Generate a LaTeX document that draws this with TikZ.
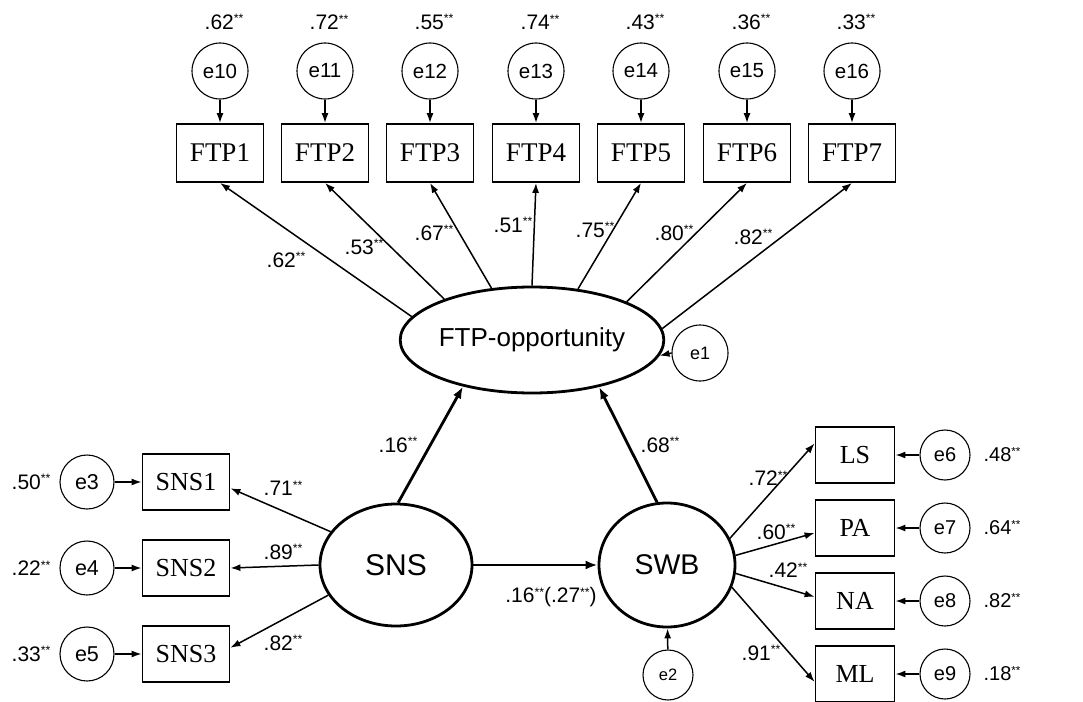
\documentclass[tikz,border=0pt]{standalone}
\usepackage{fontspec}
\setmainfont{Liberation Serif}
\newfontfamily\arial{Liberation Sans}
\usetikzlibrary{arrows.meta,shapes.geometric}
% significance stars set as small raised asterisks
\newcommand\sig{\raisebox{0.3em}{\scalebox{0.58}{**}}}
\newcommand\fs[1]{\fontsize{#1}{#1}\selectfont}

\begin{document}
\begin{tikzpicture}[x=1pt,y=-1pt,
  obs/.style={draw, line width=1.8pt, minimum width=87pt, minimum height=58pt, inner sep=0pt, font=\fs{27}},
  obsr/.style={obs, minimum width=79pt, minimum height=56pt, font=\fs{26}},
  err/.style={draw, circle, line width=1.1pt, inner sep=0pt, minimum size=56pt, font=\arial\fs{20.5}},
  lat/.style={draw, ellipse, line width=2.8pt, inner sep=0pt},
  coef/.style={inner sep=0pt, font=\arial\fs{21}},
  load/.style={line width=1.5pt, -{Latex[length=10pt,width=7pt]}},
  struct/.style={line width=2.8pt, -{Latex[length=12pt,width=9pt]}}]
\useasboundingbox (0,0) rectangle (1083,701);

% latent variables
\node[lat, minimum width=226pt, minimum height=106pt, font=\arial\fs{26}] (ftp) at (532,340) {FTP-opportunity};
\node[lat, minimum width=152pt, minimum height=122pt, font=\arial\fs{30}] (sns) at (396,565) {SNS};
\node[lat, minimum width=136pt, minimum height=124pt, font=\arial\fs{28.5}] (swb) at (667,565) {SWB};

% FTP indicators with their error terms
\foreach \i/\x/\v in {1/220/.62, 2/325/.72, 3/430/.55, 4/536/.74, 5/641/.43, 6/747/.36, 7/852/.33}{
  \pgfmathtruncatemacro\j{\i+9}
  \node[obs] (f\i) at (\x,153) {FTP\i};
  \node[err] (e\j) at (\x,71) {e\j};
  \node[coef] (r\j) at (\x+4,22) {\v\sig};
  \draw[load] (e\j) -- (f\i);
}

% FTP loadings
\foreach \i/\a/\v/\lx/\ly in {1/169/.62/286/260, 2/155/.53/364/247, 3/128/.67/434/233,
    4/90/.51/513/225, 5/48/.75/595/230, 6/22/.80/674/233, 7/5/.82/753/237}{
  \draw[load] (ftp.\a) -- (f\i.south);
  \node[coef] (l\i) at (\lx,\ly) {\v\sig};
}

% disturbance of FTP-opportunity
\node[err, font=\arial\fs{18}] (e1) at (700,353) {e1};
\draw[load] (e1.west) -- (ftp.-7);

% SNS indicators
\foreach \i/\y/\k/\v in {1/482/3/.50, 2/568/4/.22, 3/654/5/.33}{
  \node[obs, minimum height=56pt, font=\fs{26}] (s\i) at (186,\y) {SNS\i};
  \node[err, minimum size=54pt, font=\arial\fs{21.5}] (e\k) at (87,\y) {e\k};
  \node[coef] (r\k) at (31,\y) {\v\sig};
  \draw[load] (e\k) -- (s\i);
}
\draw[load] (sns.153) -- (s1.-8);
\draw[load] (sns.180) -- (s2.east);
\draw[load] (sns.204) -- (s3.8);
\node[coef] (ls1) at (283,488) {.71\sig};
\node[coef] (ls2) at (283,552) {.89\sig};
\node[coef] (ls3) at (283,643) {.82\sig};

% SWB indicators
\foreach \n/\t/\y/\k/\v in {ls/LS/455/6/.48, pa/PA/528/7/.64, na/NA/601/8/.82, ml/ML/674/9/.18}{
  \node[obsr] (\n) at (855,\y) {\t};
  \node[err, minimum size=50pt, font=\arial\fs{20}] (e\k) at (945,\y) {e\k};
  \node[coef, font=\arial\fs{20}] (r\k) at (1002,\y) {\v\sig};
  \draw[load] (e\k) -- (\n);
}
\draw[load] (swb.23) -- (ls.164);
\draw[load] (swb.8) -- (pa.187);
\draw[load] (swb.-7) -- (na.174);
\draw[load] (swb.-19) -- (ml.191);
\node[coef] (lw1) at (768,478) {.72\sig};
\node[coef] (lw2) at (776,532) {.60\sig};
\node[coef] (lw3) at (788,570) {.42\sig};
\node[coef] (lw4) at (761,653) {.91\sig};

% disturbance of SWB
\node[err, minimum size=50pt, font=\arial\fs{16.5}] (e2) at (668,675) {e2};
\draw[load] (e2) -- (swb);

% structural paths
\draw[struct] (sns.88) -- (ftp.214);
\draw[struct] (swb.99) -- (ftp.-35);
\draw[struct] (sns.east) -- (swb.west);
\node[coef] (p1) at (398,445) {.16\sig};
\node[coef] (p2) at (660,445) {.68\sig};
\node[coef] (p3) at (551,597) {.16\sig(.27\sig)};
\end{tikzpicture}
\end{document}
